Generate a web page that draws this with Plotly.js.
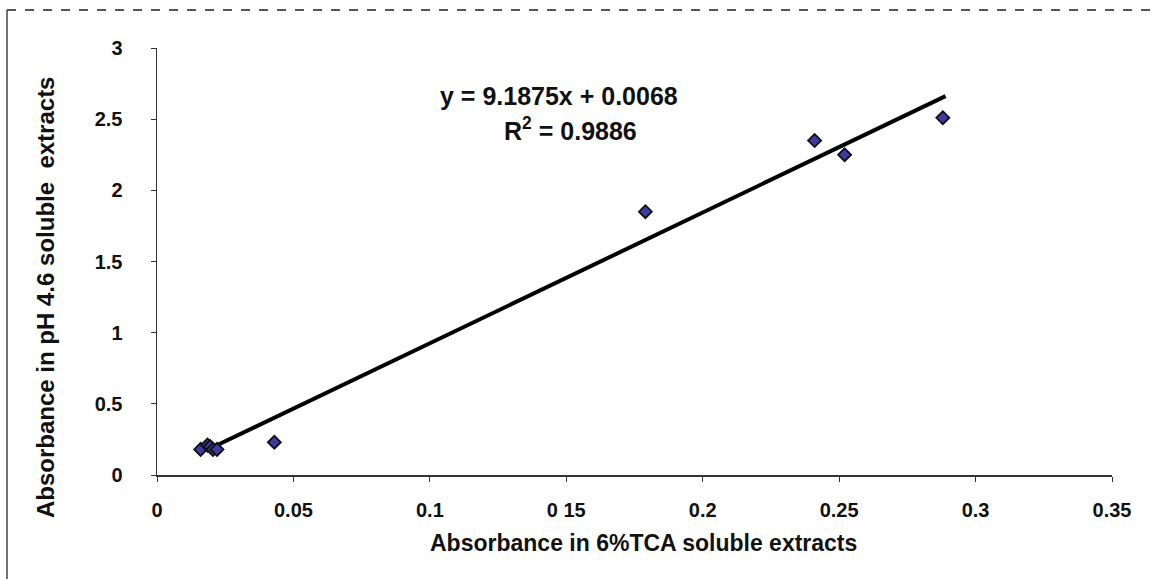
<!DOCTYPE html>
<html>
<head>
<meta charset="utf-8">
<script src="https://cdn.plot.ly/plotly-3.0.1.min.js"></script>
<style>html,body{margin:0;padding:0;background:#fff;}#chart{width:1159px;height:579px;}</style>
</head>
<body>
<div id="chart"></div>
<script>
// Data
const tcaAbs = [0.016, 0.0185, 0.0195, 0.0205, 0.022, 0.043, 0.179, 0.241, 0.252, 0.288];
const phAbs  = [0.18, 0.21, 0.20, 0.18, 0.18, 0.23, 1.85, 2.35, 2.25, 2.51];
const slope = 9.1875;
const intercept = 0.0068;
const r2 = 0.9886;
const fitX = [0.021, 0.289];
const fitY = fitX.map(x => slope * x + intercept);
const xTicks = [0, 0.05, 0.1, 0.15, 0.2, 0.25, 0.3, 0.35];
const xTickText = ['0', '0.05', '0.1', '0 15', '0.2', '0.25', '0.3', '0.35'];
const yTicks = [0, 0.5, 1, 1.5, 2, 2.5, 3];
const xTitle = 'Absorbance in 6%TCA soluble extracts';
const yTitle = 'Absorbance in pH 4.6 soluble&nbsp; extracts';
const eqText = 'y = 9.1875x + 0.0068';

const font = 'Liberation Sans, Arial, sans-serif';
const W = 1159, H = 579, L = 157, R = 47, T = 48, B = 104;
const pw = W - L - R, ph = H - T - B;
const px = x => (x - L) / pw;          // pixel -> paper x
const py = y => (H - B - y) / ph;      // pixel -> paper y

const traces = [
  {
    x: fitX, y: fitY, mode: 'lines', type: 'scatter',
    line: {color: '#000', width: 4}, hoverinfo: 'skip', showlegend: false
  },
  {
    x: tcaAbs, y: phAbs, mode: 'markers', type: 'scatter',
    marker: {symbol: 'diamond', size: 10, color: '#3b3ba8', line: {color: '#111', width: 1.8}},
    showlegend: false
  }
];

const layout = {
  width: W, height: H,
  margin: {l: L, r: R, t: T, b: B},
  paper_bgcolor: '#fff', plot_bgcolor: '#fff',
  font: {family: font, color: '#111'},
  xaxis: {
    range: [0, 0.35], tickvals: xTicks, ticktext: xTickText,
    showgrid: false, zeroline: false, showline: true, linecolor: '#333', linewidth: 1.5,
    ticks: 'outside', ticklen: 5, tickcolor: '#333', ticklabelstandoff: 11,
    tickfont: {size: 20, family: font, weight: 'bold', color: '#111'}
  },
  yaxis: {
    range: [0, 3], tickvals: yTicks,
    showgrid: false, zeroline: false, showline: true, linecolor: '#333', linewidth: 1.5,
    ticks: 'outside', ticklen: 5, tickcolor: '#333', ticklabelstandoff: 24,
    tickfont: {size: 20, family: font, weight: 'bold', color: '#111'}
  },
  annotations: [
    {xref: 'paper', yref: 'paper', x: px(643), y: py(543), xanchor: 'center', yanchor: 'middle',
     text: xTitle, showarrow: false,
     font: {size: 23, family: font, weight: 'bold', color: '#111'}},
    {xref: 'paper', yref: 'paper', x: px(45), y: py(298), xanchor: 'center', yanchor: 'middle',
     text: yTitle, showarrow: false, textangle: -90,
     font: {size: 24, family: font, weight: 'bold', color: '#111'}},
    {xref: 'x', yref: 'y', x: 0.1475, y: 2.66, xanchor: 'center', yanchor: 'middle',
     text: eqText, showarrow: false,
     font: {size: 25, family: font, weight: 'bold', color: '#111'}},
    {xref: 'x', yref: 'y', x: 0.1515, y: 2.43, xanchor: 'center', yanchor: 'middle',
     text: 'R<sup>2</sup> = ' + r2.toFixed(4), showarrow: false,
     font: {size: 25, family: font, weight: 'bold', color: '#111'}}
  ],
  shapes: [
    {type: 'line', xref: 'paper', yref: 'paper', x0: px(7), x1: px(1159), y0: py(10), y1: py(10),
     line: {color: '#555', width: 2, dash: 'dash'}},
    {type: 'line', xref: 'paper', yref: 'paper', x0: px(7), x1: px(7), y0: py(10), y1: py(579),
     line: {color: '#444', width: 1.5}}
  ]
};

Plotly.newPlot('chart', traces, layout, {displayModeBar: false, staticPlot: true});
</script>
</body>
</html>
